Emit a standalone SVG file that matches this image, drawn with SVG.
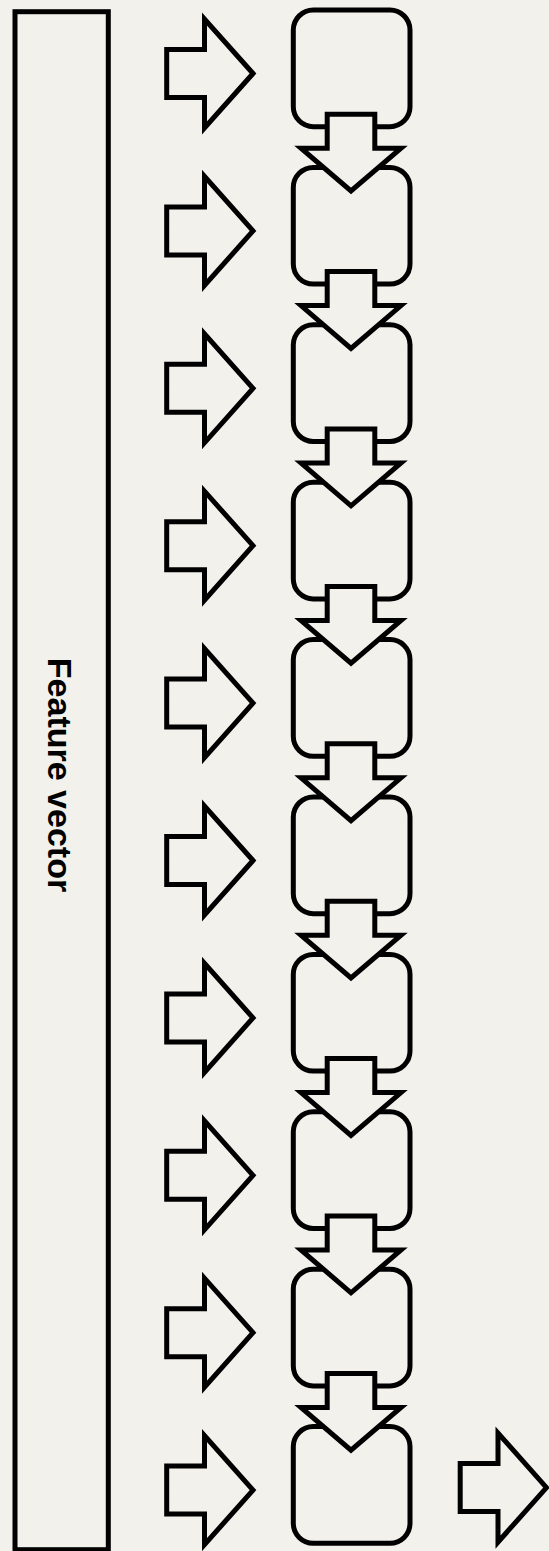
<svg xmlns="http://www.w3.org/2000/svg" xmlns:xlink="http://www.w3.org/1999/xlink" width="549" height="1551" viewBox="0 0 549 1551">
  <style>
    .shape { fill: #f2f1eb; stroke: #000; stroke-width: 5; stroke-linejoin: miter; stroke-miterlimit: 10; }
    .label { font-family: "Liberation Sans", Arial, sans-serif; font-weight: bold; font-size: 34px; fill: #000; }
  </style>
  <defs>
    <!-- input arrow pointing right -->
    <polygon id="rightArrow" class="shape" points="166.7,49.5 204.5,49.5 204.5,19 253,73.5 204.5,128 204.5,97.5 166.7,97.5"/>
    <!-- cell box -->
    <rect id="cell" class="shape" x="293.3" y="10" width="116.7" height="116.7" rx="20" ry="20"/>
    <!-- arrow from one cell to the next -->
    <polygon id="downArrow" class="shape" points="327.2,114.2 374.8,114.2 374.8,148.2 401,148.2 351,191 301,148.2 327.2,148.2"/>
  </defs>

  <rect x="0" y="0" width="549" height="1551" fill="#f2f1eb"/>

  <!-- feature vector bar -->
  <g id="feature-vector">
    <rect class="shape" x="15" y="11.7" width="93.3" height="1538"/>
    <text class="label" text-anchor="middle" transform="translate(48,775) rotate(90)">Feature vector</text>
  </g>

  <!-- input arrows -->
  <g id="inputs">
    <use xlink:href="#rightArrow" transform="translate(0,0)"/>
    <use xlink:href="#rightArrow" transform="translate(0,157.4)"/>
    <use xlink:href="#rightArrow" transform="translate(0,314.8)"/>
    <use xlink:href="#rightArrow" transform="translate(0,472.2)"/>
    <use xlink:href="#rightArrow" transform="translate(0,629.6)"/>
    <use xlink:href="#rightArrow" transform="translate(0,787)"/>
    <use xlink:href="#rightArrow" transform="translate(0,944.4)"/>
    <use xlink:href="#rightArrow" transform="translate(0,1101.8)"/>
    <use xlink:href="#rightArrow" transform="translate(0,1259.2)"/>
    <use xlink:href="#rightArrow" transform="translate(0,1416.6)"/>
  </g>

  <!-- cells -->
  <g id="cell-1"><use xlink:href="#cell" transform="translate(0,0)"/></g>
  <g id="cell-2"><use xlink:href="#cell" transform="translate(0,157.4)"/></g>
  <g id="cell-3"><use xlink:href="#cell" transform="translate(0,314.8)"/></g>
  <g id="cell-4"><use xlink:href="#cell" transform="translate(0,472.2)"/></g>
  <g id="cell-5"><use xlink:href="#cell" transform="translate(0,629.6)"/></g>
  <g id="cell-6"><use xlink:href="#cell" transform="translate(0,787)"/></g>
  <g id="cell-7"><use xlink:href="#cell" transform="translate(0,944.4)"/></g>
  <g id="cell-8"><use xlink:href="#cell" transform="translate(0,1101.8)"/></g>
  <g id="cell-9"><use xlink:href="#cell" transform="translate(0,1259.2)"/></g>
  <g id="cell-10"><use xlink:href="#cell" transform="translate(0,1416.6)"/></g>

  <!-- connectors between cells, drawn over the cell borders -->
  <g id="connectors">
    <use xlink:href="#downArrow" transform="translate(0,0)"/>
    <use xlink:href="#downArrow" transform="translate(0,157.4)"/>
    <use xlink:href="#downArrow" transform="translate(0,314.8)"/>
    <use xlink:href="#downArrow" transform="translate(0,472.2)"/>
    <use xlink:href="#downArrow" transform="translate(0,629.6)"/>
    <use xlink:href="#downArrow" transform="translate(0,787)"/>
    <use xlink:href="#downArrow" transform="translate(0,944.4)"/>
    <use xlink:href="#downArrow" transform="translate(0,1101.8)"/>
    <use xlink:href="#downArrow" transform="translate(0,1259.2)"/>
  </g>

  <!-- output arrow -->
  <g id="output">
    <use xlink:href="#rightArrow" transform="translate(293.5,1414.1)"/>
  </g>
</svg>
